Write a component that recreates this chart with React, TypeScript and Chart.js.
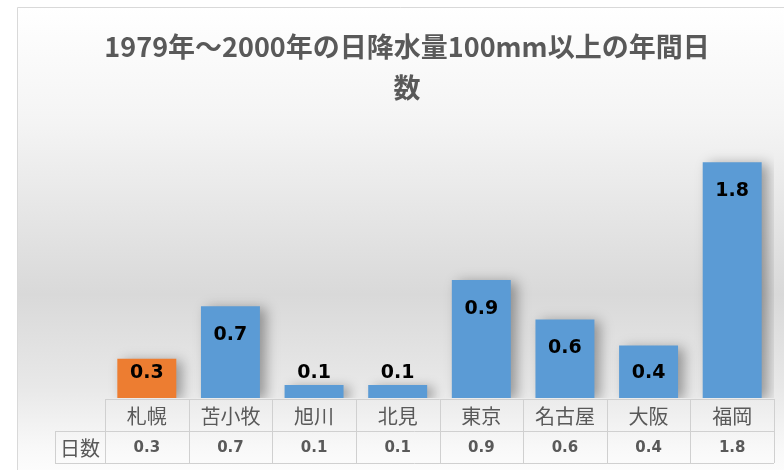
import { useEffect, useRef } from 'react';
import { Chart, registerables } from 'chart.js';

Chart.register(...registerables);

const titleLines = ['1979年～2000年の日降水量100mm以上の年間日', '数'];
const categories = ['札幌', '苫小牧', '旭川', '北見', '東京', '名古屋', '大阪', '福岡'];
const days = [0.3, 0.7, 0.1, 0.1, 0.9, 0.6, 0.4, 1.8];
const seriesName = '日数';
const highlighted = ['札幌'];

const BLUE = '#5B9BD5';
const ORANGE = '#ED7D31';
const GRID = '#d0d0d0';
const TEXT = '#595959';

const decorPlugin = {
  id: 'decor',
  beforeDraw(chart: any) {
    const { ctx, width, height } = chart;
    ctx.save();
    ctx.fillStyle = '#ffffff';
    ctx.fillRect(0, 0, width, height);
    const bx = 17, by = 7;
    const g = ctx.createLinearGradient(0, by, 0, height);
    g.addColorStop(0, '#ffffff');
    g.addColorStop(0.25, '#f4f4f4');
    g.addColorStop(0.62, '#d9d9d9');
    g.addColorStop(0.82, '#e8e8e8');
    g.addColorStop(0.95, '#f8f8f8');
    g.addColorStop(1, '#fcfcfc');
    ctx.fillStyle = g;
    ctx.fillRect(bx, by, width - bx, height - by);
    ctx.strokeStyle = '#d9d9d9';
    ctx.lineWidth = 1;
    ctx.beginPath();
    ctx.moveTo(bx + 0.5, height);
    ctx.lineTo(bx + 0.5, by + 0.5);
    ctx.lineTo(width, by + 0.5);
    ctx.stroke();
    ctx.restore();
  },
  beforeDatasetsDraw(chart: any) {
    const { ctx } = chart;
    ctx.save();
    ctx.shadowColor = 'rgba(0,0,0,0.35)';
    ctx.shadowBlur = 12;
    ctx.shadowOffsetX = 6;
    ctx.shadowOffsetY = 2;
  },
  afterDatasetsDraw(chart: any) {
    const { ctx, chartArea } = chart;
    ctx.restore();
    const meta = chart.getDatasetMeta(0);
    const data = chart.data.datasets[0].data as number[];
    ctx.save();
    ctx.font = 'bold 19px "DejaVu Sans"';
    ctx.fillStyle = '#000000';
    ctx.textAlign = 'center';
    ctx.textBaseline = 'middle';
    meta.data.forEach((bar: any, i: number) => {
      const y = Math.min(bar.y + 29, chartArea.bottom - 25);
      ctx.fillText(data[i].toFixed(1), bar.x, y);
    });
    ctx.restore();
  },
  afterDraw(chart: any) {
    const { ctx, chartArea } = chart;
    ctx.save();
    // title
    ctx.fillStyle = TEXT;
    ctx.textAlign = 'center';
    ctx.textBaseline = 'middle';
    ctx.font = 'bold 27px "Noto Sans CJK JP"';
    ctx.fillText(titleLines[0], 407, 47);
    ctx.fillText(titleLines[1], 407, 88);

    // data table
    const labels = chart.data.labels as string[];
    const data = chart.data.datasets[0].data as number[];
    const n = labels.length;
    const left = chartArea.left;
    const right = chartArea.right;
    const colW = (right - left) / n;
    const r0 = chartArea.bottom + 1;
    const r1 = r0 + 32;
    const r2 = r1 + 32;
    const hx = 55;
    ctx.strokeStyle = GRID;
    ctx.lineWidth = 1;
    ctx.beginPath();
    ctx.moveTo(left, r0 + 0.5);
    ctx.lineTo(right, r0 + 0.5);
    ctx.moveTo(hx, r1 + 0.5);
    ctx.lineTo(right, r1 + 0.5);
    ctx.moveTo(hx, r2 + 0.5);
    ctx.lineTo(right, r2 + 0.5);
    ctx.moveTo(hx + 0.5, r1);
    ctx.lineTo(hx + 0.5, r2);
    for (let i = 0; i <= n; i++) {
      const x = Math.round(left + i * colW) + 0.5;
      ctx.moveTo(x, r0);
      ctx.lineTo(x, r2);
    }
    ctx.stroke();

    ctx.fillStyle = TEXT;
    ctx.font = '20px "Noto Sans CJK JP"';
    labels.forEach((lab, i) => {
      ctx.fillText(lab, left + (i + 0.5) * colW, (r0 + r1) / 2 + 1);
    });
    ctx.fillText(chart.data.datasets[0].label, (hx + left) / 2, (r1 + r2) / 2 + 1);
    ctx.font = 'bold 15px "DejaVu Sans"';
    data.forEach((v, i) => {
      ctx.fillText(v.toFixed(1), left + (i + 0.5) * colW, (r1 + r2) / 2 + 1);
    });
    ctx.restore();
  },
};

export default function App() {
  const ref = useRef<HTMLCanvasElement>(null);
  useEffect(() => {
    if (!ref.current) return;
    const chart = new Chart(ref.current, {
      type: 'bar',
      data: {
        labels: categories,
        datasets: [
          {
            label: seriesName,
            data: days,
            backgroundColor: categories.map((c) => (highlighted.includes(c) ? ORANGE : BLUE)),
            categoryPercentage: 1,
            barPercentage: 0.705,
          },
        ],
      },
      options: {
        responsive: false,
        animation: false,
        maintainAspectRatio: false,
        layout: { padding: { left: 105, right: 10, top: 136, bottom: 72 } },
        plugins: {
          legend: { display: false },
          title: { display: false },
          tooltip: { enabled: false },
        },
        scales: {
          x: { display: false },
          y: { display: false, min: 0, max: 2 },
        },
      },
      plugins: [decorPlugin],
    });
    return () => chart.destroy();
  }, []);
  return (
    <div style={{ position: 'fixed', left: 0, top: 0, width: 784, height: 470 }}>
      <canvas ref={ref} width={784} height={470} style={{ display: 'block', width: 784, height: 470 }} />
    </div>
  );
}
